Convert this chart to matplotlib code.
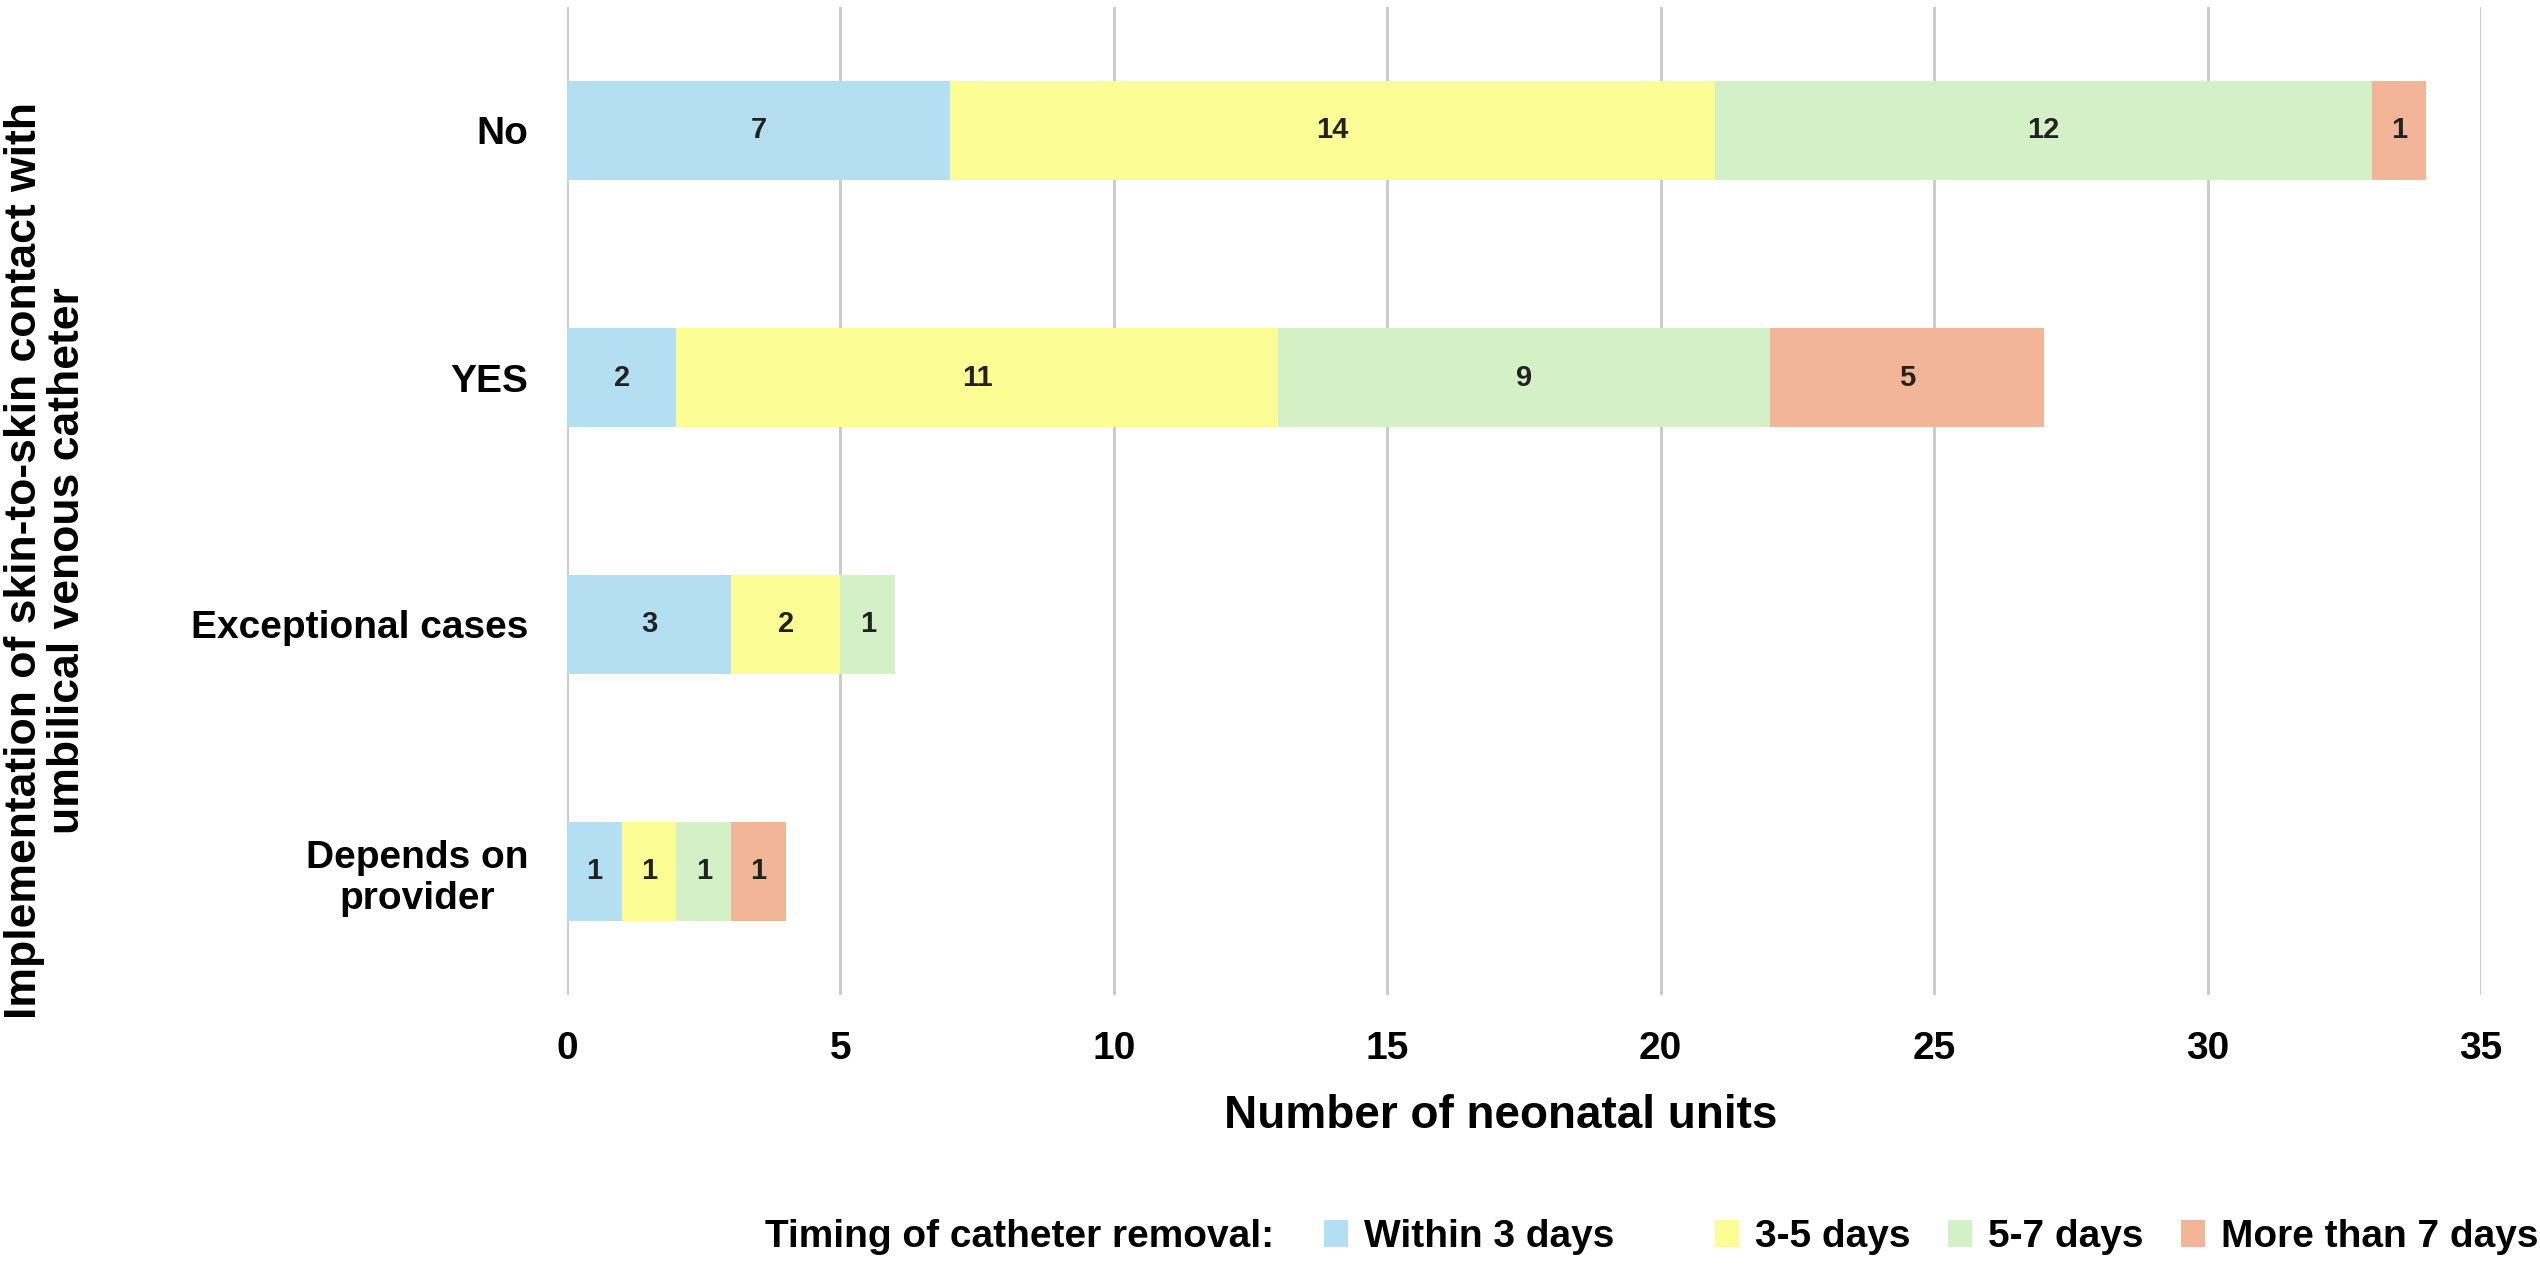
import matplotlib
matplotlib.use("Agg")
import matplotlib.pyplot as plt
from matplotlib.patches import Patch

plt.rcParams['font.family'] = ['Liberation Sans', 'DejaVu Sans']
plt.rcParams['font.weight'] = 'bold'

categories = ["No", "YES", "Exceptional cases", "Depends on\nprovider"]
series_names = ["Within 3 days", "3-5 days", "5-7 days", "More than 7 days"]
within_3 = [7, 2, 3, 1]
days_3_5 = [14, 11, 2, 1]
days_5_7 = [12, 9, 1, 1]
more_7 = [1, 5, 0, 1]
series_values = [within_3, days_3_5, days_5_7, more_7]
colors = ['#B4DEF2', '#FDFD96', '#D3F0C7', '#F3B598']
x_ticks = [0, 5, 10, 15, 20, 25, 30, 35]

fig = plt.figure(figsize=(25.4, 12.69), dpi=100)
ax = fig.add_axes([567/2540, 1-995/1269, (2481-567)/2540, (995-7)/1269])

ypos = list(range(len(categories)))
left = [0]*len(categories)
for name, vals, col in zip(series_names, series_values, colors):
    bars = ax.barh(ypos, vals, left=left, height=0.4, color=col, label=name, zorder=2)
    labels = [str(v) if v > 0 else "" for v in vals]
    ax.bar_label(bars, labels=labels, label_type='center', fontsize=21,
                 fontweight='bold', color='#222222')
    left = [l + v for l, v in zip(left, vals)]

ax.set_ylim(3.5, -0.5)
ax.set_xlim(0, 35)
ax.set_xticks(x_ticks)
ax.set_xticklabels([str(t) for t in x_ticks], fontsize=28, fontweight='bold')
ax.set_yticks(ypos)
ax.set_yticklabels(categories, fontsize=28, fontweight='bold')
for lbl in ax.get_yticklabels():
    lbl.set_multialignment('center')
ax.tick_params(axis='both', length=0)
ax.tick_params(axis='x', pad=26)
ax.tick_params(axis='y', pad=28)
for s in ax.spines.values():
    s.set_visible(False)
ax.grid(axis='x', color='#CCCCCC', linewidth=2.2, zorder=0)
ax.grid(axis='y', visible=False)
ax.set_axisbelow(True)

ax.set_xlabel("Number of neonatal units", fontsize=33, fontweight='bold', labelpad=19)
ax.xaxis.label.set_x(0.488)
ax.set_ylabel("Implementation of skin-to-skin contact with\numbilical venous catheter",
              fontsize=32, fontweight='bold', multialignment='center', linespacing=1.05)
ax.yaxis.set_label_coords((88-567)/1914, 0.44)

# legend
fig.text(765/2540, 1-1237/1269, "Timing of catheter removal:", fontsize=28,
         fontweight='bold', ha='left', va='center')
patch_x = [1324, 1715, 1948, 2181]
for px, name, col in zip(patch_x, series_names, colors):
    fig.legend(handles=[Patch(facecolor=col, edgecolor='none')], labels=[name],
               loc='center left', bbox_to_anchor=(px/2540, 1-1237/1269),
               frameon=False, borderpad=0, borderaxespad=0,
               handlelength=0.62, handleheight=0.7, handletextpad=0.4,
               prop={'weight': 'bold', 'size': 28})

fig.savefig("out.png", dpi=100)
